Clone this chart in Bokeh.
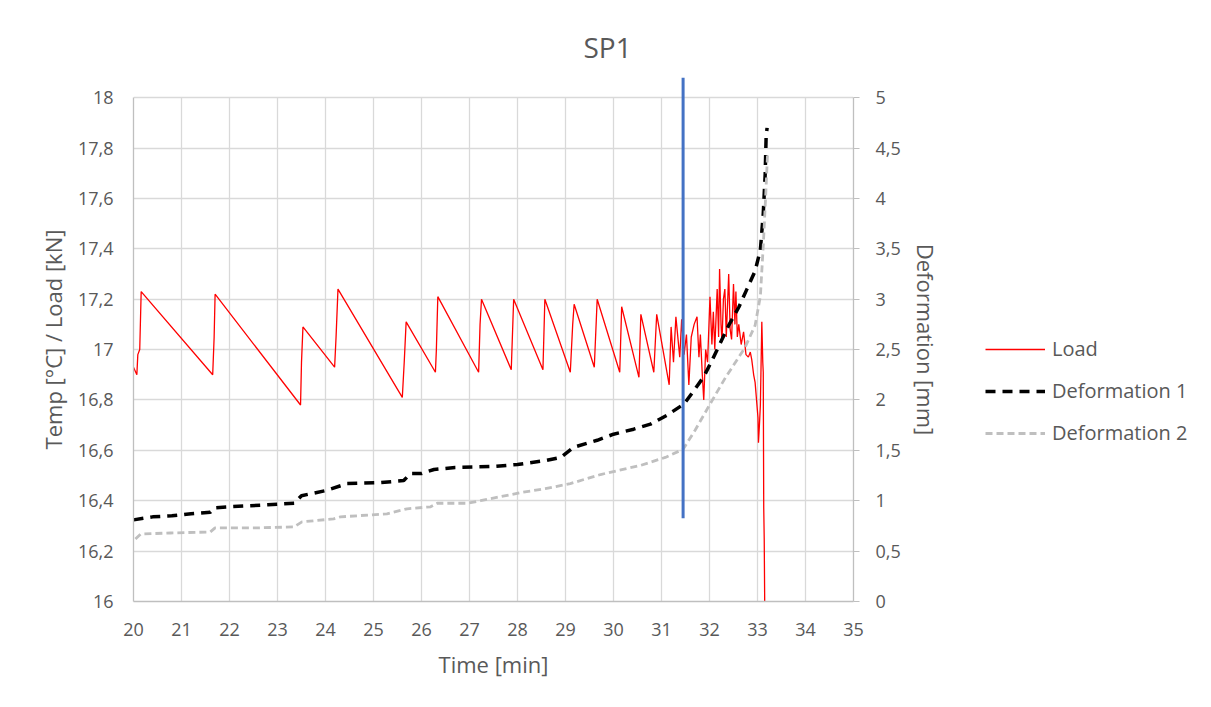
from bokeh.plotting import figure
from bokeh.layouts import row
from bokeh.models import (Range1d, LinearAxis, FixedTicker, Legend, LegendItem, Title)
from bokeh.embed import file_html
from bokeh.resources import INLINE

# ---------------- data ----------------
load_time = [20.00, 20.07, 20.09, 20.13, 20.16, 21.65, 21.68, 21.70, 23.48, 23.50, 23.53,
             24.19, 24.22, 24.26, 25.60, 25.64, 25.68, 26.29, 26.31, 26.34, 27.19, 27.22,
             27.25, 27.87, 27.92, 28.53, 28.57, 29.10, 29.15, 29.18, 29.60, 29.66, 30.13,
             30.17, 30.53, 30.57, 30.84, 30.90, 31.16, 31.20, 31.25, 31.30, 31.38, 31.42,
             31.47, 31.52, 31.57, 31.62, 31.68, 31.74, 31.78, 31.81, 31.85, 31.88, 31.92,
             31.96, 32.01, 32.05, 32.08, 32.11, 32.16, 32.19, 32.21, 32.24, 32.26, 32.29,
             32.32, 32.35, 32.40, 32.43, 32.46, 32.50, 32.53, 32.55, 32.58, 32.61, 32.66,
             32.71, 32.76, 32.81, 32.85, 32.88, 32.92, 32.95, 32.98, 33.01, 33.02, 33.04,
             33.06, 33.09, 33.11, 33.12, 33.13, 33.14, 33.15]
load_kn = [16.93, 16.90, 16.98, 17.00, 17.23, 16.90, 17.05, 17.22, 16.78, 16.95, 17.09,
           16.93, 17.05, 17.24, 16.81, 16.95, 17.11, 16.91, 17.00, 17.21, 16.91, 17.10,
           17.20, 16.92, 17.20, 16.92, 17.20, 16.91, 17.10, 17.18, 16.93, 17.20, 16.91,
           17.17, 16.89, 17.14, 16.91, 17.14, 16.86, 17.09, 16.95, 17.13, 16.97, 17.12,
           16.98, 17.06, 16.86, 17.05, 17.10, 17.13, 16.97, 17.06, 16.90, 16.80, 17.00,
           16.95, 17.21, 17.02, 17.15, 17.00, 17.24, 17.05, 17.32, 17.10, 17.03, 17.20,
           17.24, 17.05, 17.30, 17.08, 17.04, 17.26, 17.10, 17.23, 17.05, 17.10, 17.02,
           17.07, 16.98, 16.97, 16.99, 16.96, 16.90, 16.87, 16.80, 16.73, 16.63, 16.70,
           16.78, 17.11, 16.95, 16.91, 16.37, 16.25, 16.00]

def1_time = [20.00, 20.40, 20.80, 21.20, 21.60, 21.70, 22.00, 22.80, 23.35, 23.50, 24.00,
             24.45, 25.15, 25.63, 25.77, 26.00, 26.26, 26.70, 27.50, 28.00, 28.60, 28.90,
             29.17, 29.66, 30.00, 30.42, 30.77, 31.12, 31.47, 31.67, 31.88, 32.06, 32.23,
             32.40, 32.61, 32.78, 32.95, 33.06, 33.12, 33.16, 33.18, 33.20]
def1_mm = [0.81, 0.84, 0.85, 0.87, 0.885, 0.93, 0.94, 0.96, 0.975, 1.05, 1.10,
           1.17, 1.18, 1.20, 1.27, 1.27, 1.31, 1.33, 1.34, 1.36, 1.40, 1.43,
           1.53, 1.60, 1.66, 1.71, 1.76, 1.85, 1.96, 2.09, 2.23, 2.40, 2.57,
           2.74, 2.92, 3.10, 3.28, 3.49, 3.85, 4.24, 4.62, 4.70]

def2_time = [20.04, 20.15, 20.77, 21.60, 21.70, 22.50, 23.34, 23.51, 24.17, 24.31, 25.28,
             25.70, 26.19, 26.33, 26.95, 27.23, 28.06, 28.58, 29.10, 29.73, 30.56, 31.08,
             31.45, 31.70, 32.00, 32.33, 32.74, 32.95, 33.06, 33.12, 33.17, 33.21]
def2_mm = [0.62, 0.67, 0.68, 0.69, 0.73, 0.73, 0.74, 0.79, 0.82, 0.84, 0.87,
           0.92, 0.94, 0.975, 0.975, 1.00, 1.08, 1.12, 1.17, 1.26, 1.35, 1.43,
           1.51, 1.70, 1.95, 2.22, 2.52, 2.74, 3.03, 3.53, 4.02, 4.45]

marker_time = [31.45, 31.45]
marker_kn = [16.33, 18.08]

series_names = ["Load", "Deformation 1", "Deformation 2"]

x_ticks = list(range(20, 36))
y_ticks = [16.0, 16.2, 16.4, 16.6, 16.8, 17.0, 17.2, 17.4, 17.6, 17.8, 18.0]
y2_ticks = [0.0, 0.5, 1.0, 1.5, 2.0, 2.5, 3.0, 3.5, 4.0, 4.5, 5.0]


def lab(v):
    return ("%g" % v).replace(".", ",")


# ---------------- styling ----------------
FONT = "Open Sans"
TXT = "#595959"
GRID = "#d9d9d9"
AXL = "#bfbfbf"
H = 691
W_MAIN = 960

p = figure(width=W_MAIN, height=H, output_backend="svg", toolbar_location=None,
           x_range=Range1d(20, 35), y_range=Range1d(16, 18.08),
           min_border_left=133, min_border_right=W_MAIN - 853, min_border_top=77,
           min_border_bottom=H - 601, x_axis_label="Time [min]",
           y_axis_label="Temp [°C] / Load [kN]")
p.outline_line_color = None
p.background_fill_color = "white"
p.border_fill_color = "white"

p.extra_y_ranges = {"def": Range1d(0, 5.2)}

p.title = Title(text="SP1", align="left", offset=450, text_font=FONT,
                text_font_size="28px", text_color=TXT, text_font_style="normal",
                standoff=23)

xa = p.xaxis[0]
xa.ticker = FixedTicker(ticks=x_ticks)
xa.major_label_overrides = {t: lab(t) for t in x_ticks}
ya = p.yaxis[0]
ya.ticker = FixedTicker(ticks=y_ticks)
ya.major_label_overrides = {t: lab(t) for t in y_ticks}
ya.bounds = (16, 18)

ra = LinearAxis(y_range_name="def", axis_label="Deformation [mm]",
                ticker=FixedTicker(ticks=y2_ticks), bounds=(0, 5))
ra.major_label_overrides = {t: lab(t) for t in y2_ticks}
p.add_layout(ra, "right")

for ax in (xa, ya, ra):
    ax.major_label_text_font = FONT
    ax.major_label_text_font_size = "18px"
    ax.major_label_text_color = TXT
    ax.axis_label_text_font = FONT
    ax.axis_label_text_font_size = "22px"
    ax.axis_label_text_color = TXT
    ax.axis_label_text_font_style = "normal"
    ax.axis_line_color = AXL
    ax.axis_line_width = 1.3
    ax.minor_tick_line_color = None
    ax.major_tick_line_color = AXL
    ax.major_tick_in = 0
    ax.major_tick_out = 0

ra.major_tick_out = 6
ra.major_label_standoff = 16
ra.axis_label_standoff = 7
ya.major_label_standoff = 20
ya.axis_label_standoff = 7
xa.major_label_standoff = 21
xa.axis_label_standoff = 10

p.xgrid.ticker = FixedTicker(ticks=x_ticks)
p.ygrid.ticker = FixedTicker(ticks=y_ticks)
for g in (p.xgrid, p.ygrid):
    g.grid_line_color = GRID
    g.grid_line_width = 1.3
try:
    p.xgrid.cross_bounds = (16, 18)
except Exception:
    pass

STY = [dict(line_color="#ff0000", line_width=1.3),
       dict(line_color="black", line_width=3.5, line_dash="10 7"),
       dict(line_color="#bfbfbf", line_width=2.8, line_dash="7 4")]
SERIES = [(load_time, load_kn), (def1_time, def1_mm), (def2_time, def2_mm)]

p.line(load_time, load_kn, **STY[0])
p.line(def1_time, def1_mm, y_range_name="def", **STY[1])
p.line(def2_time, def2_mm, y_range_name="def", **STY[2])
p.line(marker_time, marker_kn, line_color="#4472c4", line_width=3)

# ---------------- legend panel (its ranges keep the series out of view) ----------------
W_LEG = 1195 - W_MAIN
pl = figure(width=W_LEG, height=H, output_backend="svg", toolbar_location=None,
            x_range=Range1d(0, 1), y_range=Range1d(0, 1),
            x_axis_location=None, y_axis_location=None,
            min_border_left=0, min_border_right=0, min_border_top=0, min_border_bottom=0)
pl.grid.visible = False
pl.outline_line_color = None
pl.background_fill_color = "white"
pl.border_fill_color = "white"
leg_renderers = [pl.line(xs, ys, **s) for (xs, ys), s in zip(SERIES, STY)]

legend = Legend(items=[LegendItem(label=n, renderers=[r])
                       for n, r in zip(series_names, leg_renderers)],
                location=(25, 155), orientation="vertical",
                glyph_width=60, glyph_height=20, label_height=20,
                label_standoff=7, spacing=15, padding=0, margin=0,
                border_line_color=None, background_fill_alpha=0,
                label_text_font=FONT, label_text_font_size="20px",
                label_text_color=TXT)
pl.add_layout(legend, "center")

layout = row(p, pl)
open("out.html", "w").write(file_html(layout, INLINE))
